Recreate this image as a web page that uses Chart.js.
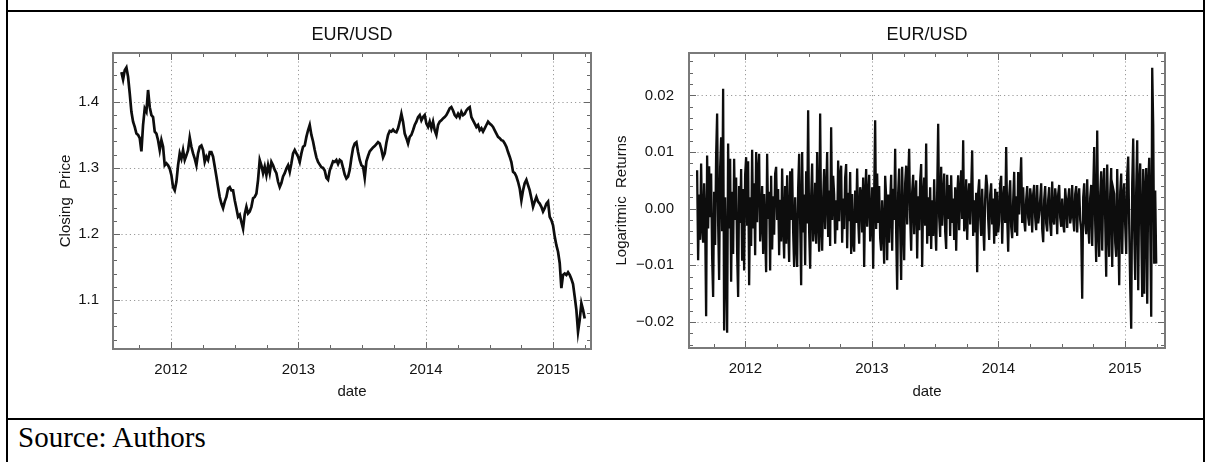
<!DOCTYPE html>
<html>
<head>
<meta charset="utf-8">
<title>EUR/USD</title>
<script src="https://cdn.jsdelivr.net/npm/chart.js@4.4.1/dist/chart.umd.min.js"></script>
<style>
  html, body { margin: 0; padding: 0; background: #fff; }
  body { width: 1206px; height: 462px; position: relative; overflow: hidden; }
  .rule { position: absolute; background: #000; }
  .panel { position: absolute; top: 12px; height: 406px; }
  #pricePanel { left: 8px; width: 592px; }
  #returnPanel { left: 600px; width: 604px; }
  #source {
    position: absolute; left: 18px; top: 423px;
    font-family: 'Liberation Serif', 'Times New Roman', serif;
    font-size: 29px; line-height: 29px; color: #000; white-space: nowrap;
  }
</style>
</head>
<body>
<div class="rule" style="left:6px;top:0;width:2px;height:462px"></div>
<div class="rule" style="left:1203px;top:0;width:2px;height:462px"></div>
<div class="rule" style="left:6px;top:10px;width:1199px;height:2px"></div>
<div class="rule" style="left:6px;top:418px;width:1199px;height:2px"></div>

<div class="panel" id="pricePanel"><canvas id="priceChart" width="592" height="406"></canvas></div>
<div class="panel" id="returnPanel"><canvas id="returnChart" width="604" height="406"></canvas></div>
<div id="source">Source: Authors</div>

<script>
// ---- data ----------------------------------------------------------------
// EUR/USD closing price, evenly spaced from the first to the last close
const priceFrom = '2011-08-12';
const priceTo = '2015-04-01';
const closingPrice = [
  1.445, 1.434, 1.448, 1.452, 1.438, 1.413, 1.385, 1.370, 1.362, 1.352,
  1.350, 1.345, 1.325, 1.365, 1.390, 1.385, 1.418, 1.392, 1.380, 1.377,
  1.355, 1.352, 1.342, 1.327, 1.342, 1.332, 1.304, 1.307, 1.304, 1.299,
  1.289, 1.271, 1.266, 1.279, 1.304, 1.322, 1.314, 1.327, 1.312, 1.319,
  1.327, 1.346, 1.332, 1.322, 1.314, 1.304, 1.322, 1.332, 1.334, 1.327,
  1.309, 1.317, 1.312, 1.324, 1.324, 1.317, 1.302, 1.287, 1.271, 1.256,
  1.246, 1.239, 1.249, 1.256, 1.269, 1.271, 1.266, 1.266, 1.251, 1.239,
  1.226, 1.229, 1.218, 1.208, 1.230, 1.241, 1.231, 1.234, 1.241, 1.254,
  1.256, 1.261, 1.282, 1.312, 1.304, 1.292, 1.302, 1.289, 1.304, 1.292,
  1.309, 1.304, 1.297, 1.292, 1.279, 1.271, 1.277, 1.287, 1.292, 1.299,
  1.304, 1.294, 1.307, 1.322, 1.327, 1.322, 1.317, 1.309, 1.322, 1.332,
  1.334, 1.347, 1.357, 1.365, 1.350, 1.340, 1.327, 1.316, 1.309, 1.305,
  1.301, 1.300, 1.296, 1.285, 1.282, 1.296, 1.303, 1.310, 1.309, 1.312,
  1.306, 1.312, 1.310, 1.300, 1.290, 1.284, 1.287, 1.297, 1.315, 1.330,
  1.337, 1.339, 1.324, 1.312, 1.304, 1.302, 1.285, 1.310, 1.318, 1.325,
  1.328, 1.331, 1.333, 1.336, 1.339, 1.337, 1.328, 1.316, 1.322, 1.338,
  1.350, 1.356, 1.355, 1.358, 1.355, 1.354, 1.360, 1.370, 1.382, 1.370,
  1.352, 1.345, 1.337, 1.347, 1.350, 1.357, 1.365, 1.370, 1.377, 1.380,
  1.372, 1.377, 1.380, 1.367, 1.362, 1.370, 1.360, 1.370, 1.357, 1.350,
  1.365, 1.370, 1.372, 1.375, 1.377, 1.380, 1.385, 1.390, 1.392, 1.387,
  1.380, 1.377, 1.382, 1.377, 1.385, 1.380, 1.382, 1.387, 1.390, 1.392,
  1.377, 1.372, 1.367, 1.362, 1.365, 1.357, 1.360, 1.355, 1.360, 1.365,
  1.370, 1.367, 1.365, 1.362, 1.357, 1.352, 1.347, 1.345, 1.342, 1.341,
  1.337, 1.332, 1.324, 1.317, 1.309, 1.294, 1.292, 1.287, 1.279, 1.269,
  1.251, 1.266, 1.277, 1.282, 1.274, 1.266, 1.254, 1.241, 1.249, 1.256,
  1.249, 1.246, 1.241, 1.234, 1.239, 1.246, 1.249, 1.226, 1.221, 1.213,
  1.196, 1.183, 1.173, 1.156, 1.118, 1.138, 1.140, 1.138, 1.142, 1.138,
  1.132, 1.124, 1.105, 1.085, 1.052, 1.070, 1.095, 1.085, 1.072
];

// Logarithmic returns in basis points (1 bp = 0.0001)
const returnFrom = '2011-08-15';
const returnTo = '2015-04-01';
const logReturnBp = [
  68, -91, 25, -55, 80, -30, -60, 45, -20, -190,
  94, -35, 75, -15, 62, -85, -156, 30, -64, 94,
  168, -25, -126, 72, 126, -40, 212, -215, 20, -86,
  -219, 115, -35, 88, -129, 30, -80, 88, -20, 55,
  -78, -156, 40, -25, 70, -92, 35, -109, 60, 91,
  -30, 84, -135, 20, -66, 104, -35, 45, -82, 100,
  -24, 66, 97, -58, -22, 40, -80, 26, -45, -112,
  97, -18, 30, -109, 58, -72, 22, -46, 62, 74,
  -20, 35, -82, 16, -58, 71, -26, -88, 40, -62,
  59, -28, -94, 66, -20, 71, -40, -103, 20, -58,
  -103, 36, 97, -22, -135, 100, -42, 25, -100, 66,
  -26, 174, -40, -106, 22, 80, -58, -30, 46, -62,
  100, -16, -76, 168, -30, -74, 18, 70, -36, 22,
  100, -50, 32, -66, 144, -20, 58, 25, -62, 15,
  -38, 85, -22, 58, 76, -60, 18, -36, 55, 79,
  -70, 28, -22, 65, -80, 26, -58, -76, 32, -25,
  71, -18, -62, 38, 26, -42, 55, -103, 22, 70,
  -32, 18, 60, -58, -22, 38, -106, 22, 156, -36,
  62, -25, 40, -52, -74, 15, -30, -97, 58, 22,
  -91, 25, -60, 12, 60, -74, 35, -20, 106, -42,
  -143, 28, 71, -32, -126, 74, -18, -91, 45, 76,
  -28, 52, 106, -15, -74, 30, 60, -45, 20, 50,
  -88, 22, -38, 50, 79, -103, 22, 55, -30, 115,
  -62, 20, -48, 38, -71, 15, -48, 52, -25, -74,
  28, 150, -15, -50, 74, -30, 18, 62, -40, -71,
  60, -18, 42, -48, 59, -25, 18, -55, 38, -74,
  18, 59, -38, 25, 68, -18, 121, -40, -28, 52,
  -55, 18, 45, -28, 32, 103, -48, 15, -42, 28,
  -112, 28, 52, -15, -48, 35, -25, -74, 18, 60,
  40, -18, -55, 25, 45, -28, 18, -62, 35, -48,
  30, -42, -22, 45, 58, -62, 12, 40, -25, 109,
  -15, -76, 22, 50, -32, -52, 15, 65, -42, 22,
  -48, 65, -10, 45, 91, -25, 38, -20, -40, 16,
  40, -16, -30, 36, 18, -42, 26, 42, -16, -38,
  42, -26, -10, 16, 45, -36, -59, 16, 40, -26,
  -40, 16, 38, -26, -48, 48, -16, -28, 36, 15,
  -45, 26, 42, -16, -32, 18, -26, -42, 36, 12,
  -34, 16, 36, -26, -12, 42, -16, -40, 26, 40,
  -42, 16, 36, -20, -38, -159, 20, 45, -25, -45,
  52, -25, -62, 20, 42, -66, 30, 109, -25, -94,
  138, -35, -85, 25, 66, -74, 35, 72, -20, -120,
  78, -30, -85, 25, 72, -103, 35, 26, -60, -85,
  70, -25, -135, 30, 62, -80, 20, 45, -30, -80,
  60, 92, -30, -138, -212, 45, 124, -40, -126, 35,
  121, -144, 40, 80, -30, -156, 70, -150, 30, 72,
  -168, 40, 90, -30, -191, 249, 147, -97, 32, -97
];

// axis ticks
const yearTicks = [2012, 2013, 2014, 2015];
const priceTicks = [1.1, 1.2, 1.3, 1.4];
const returnTicks = [-0.02, -0.01, 0, 0.01, 0.02];

// ---- helpers ---------------------------------------------------------------
function decimalYear(iso) {
  const [y, m, d] = iso.split('-').map(Number);
  const start = Date.UTC(y, 0, 1);
  const next = Date.UTC(y + 1, 0, 1);
  return y + (Date.UTC(y, m - 1, d) - start) / (next - start);
}

function spreadOverDates(values, from, to) {
  const a = decimalYear(from), b = decimalYear(to);
  return values.map((v, i) => ({ x: a + (b - a) * i / (values.length - 1), y: v }));
}

const pricePoints = spreadOverDates(closingPrice, priceFrom, priceTo);
const returnPoints = spreadOverDates(logReturnBp.map(v => v / 10000), returnFrom, returnTo);

// dotted grid, gray frame and inward ticks on all four sides
const framePlugin = {
  id: 'frame',
  beforeDatasetsDraw(chart, args, opts) {
    const { ctx, chartArea: a, scales: { x, y } } = chart;
    ctx.save();
    ctx.strokeStyle = opts.gridColor;
    ctx.lineWidth = 1;
    ctx.setLineDash([1.2, 3]);
    ctx.beginPath();
    x.ticks.forEach(t => {
      const p = Math.round(x.getPixelForValue(t.value)) + 0.5;
      ctx.moveTo(p, a.top); ctx.lineTo(p, a.bottom);
    });
    y.ticks.forEach(t => {
      const p = Math.round(y.getPixelForValue(t.value)) + 0.5;
      ctx.moveTo(a.left, p); ctx.lineTo(a.right, p);
    });
    ctx.stroke();
    ctx.restore();
  },
  afterDatasetsDraw(chart, args, opts) {
    const { ctx, chartArea: a, scales: { x, y } } = chart;
    ctx.save();
    ctx.strokeStyle = opts.tickColor;
    ctx.lineWidth = 1;
    ctx.beginPath();
    const mark = (scale, step, horizontal) => {
      const majors = scale.ticks.map(t => t.value);
      const first = Math.ceil(scale.min / step - 1e-9);
      const last = Math.floor(scale.max / step + 1e-9);
      for (let k = first; k <= last; k++) {
        const v = k * step;
        const major = majors.some(m => Math.abs(m - v) < step / 10);
        const len = major ? opts.majorLen : opts.minorLen;
        const p = Math.round(scale.getPixelForValue(v)) + 0.5;
        if (horizontal) {
          ctx.moveTo(p, a.bottom); ctx.lineTo(p, a.bottom - len);
          ctx.moveTo(p, a.top); ctx.lineTo(p, a.top + len);
        } else {
          ctx.moveTo(a.left, p); ctx.lineTo(a.left + len, p);
          ctx.moveTo(a.right, p); ctx.lineTo(a.right - len, p);
        }
      }
    };
    mark(x, opts.xMinor, true);
    mark(y, opts.yMinor, false);
    ctx.stroke();
    ctx.strokeStyle = opts.frameColor;
    ctx.lineWidth = opts.frameWidth;
    ctx.strokeRect(a.left, a.top, a.right - a.left, a.bottom - a.top);
    ctx.restore();
  }
};

const FONT = "'Liberation Sans', Arial, sans-serif";
const TEXT = '#141414';

function panelOptions(cfg) {
  return {
    responsive: false,
    animation: false,
    devicePixelRatio: 1,
    layout: { padding: cfg.padding },
    plugins: {
      legend: { display: false },
      tooltip: { enabled: false },
      title: {
        display: true,
        text: 'EUR/USD',
        fullSize: false,
        color: '#111',
        font: { family: FONT, size: 18, weight: 'normal' },
        padding: { top: 12, bottom: 7.4 }
      },
      frame: {
        gridColor: '#9a9a9a',
        tickColor: '#666',
        frameColor: '#7a7a7a',
        frameWidth: 2,
        majorLen: 7,
        minorLen: 4,
        xMinor: 0.25,
        yMinor: cfg.yMinor
      }
    },
    scales: {
      x: {
        type: 'linear',
        bounds: 'data',
        min: cfg.xMin,
        max: cfg.xMax,
        afterBuildTicks: axis => { axis.ticks = yearTicks.map(v => ({ value: v })); },
        afterFit: scale => { scale.height = 60; },
        grid: { display: false },
        border: { display: false },
        ticks: {
          color: TEXT, padding: 4, maxRotation: 0, autoSkip: false,
          font: { family: FONT, size: 15 },
          callback: v => String(v)
        },
        title: {
          display: true, text: 'date', color: TEXT,
          font: { family: FONT, size: 15 },
          padding: { top: 0, bottom: cfg.xTitlePad }
        }
      },
      y: {
        type: 'linear',
        bounds: 'data',
        min: cfg.yMin,
        max: cfg.yMax,
        afterBuildTicks: axis => { axis.ticks = cfg.yTicks.map(v => ({ value: v })); },
        afterFit: scale => { scale.width = cfg.yWidth; },
        grid: { display: false },
        border: { display: false },
        ticks: {
          color: TEXT, padding: cfg.yTickPad, autoSkip: false,
          font: { family: FONT, size: 15 },
          callback: cfg.yLabel
        },
        title: {
          display: true, text: cfg.yTitle, color: TEXT,
          font: { family: FONT, size: 15 },
          padding: { top: cfg.yTitlePad, bottom: 0 }
        }
      }
    }
  };
}

new Chart(document.getElementById('priceChart'), {
  type: 'line',
  data: {
    datasets: [{
      data: pricePoints,
      borderColor: '#0d0d0d',
      borderWidth: 2.7,
      pointRadius: 0,
      fill: false,
      tension: 0
    }]
  },
  options: panelOptions({
    padding: { left: 0, right: 9, top: 0, bottom: 9 },
    xMin: 2011.545, xMax: 2015.296,
    yMin: 1.0258, yMax: 1.474,
    yTicks: priceTicks, yMinor: 0.02,
    yWidth: 105, yTickPad: 6, yTitlePad: 48.5, xTitlePad: 8.5,
    yTitle: 'Closing  Price',
    yLabel: v => v.toFixed(1)
  }),
  plugins: [framePlugin]
});

new Chart(document.getElementById('returnChart'), {
  type: 'line',
  data: {
    datasets: [{
      data: returnPoints,
      borderColor: '#0d0d0d',
      borderWidth: 2.3,
      pointRadius: 0,
      fill: false,
      tension: 0
    }]
  },
  options: panelOptions({
    padding: { left: 0, right: 39, top: 0, bottom: 10 },
    xMin: 2011.555, xMax: 2015.316,
    yMin: -0.0246, yMax: 0.0275,
    yTicks: returnTicks, yMinor: 0.002,
    yWidth: 89, yTickPad: 7, yTitlePad: 12.8, xTitlePad: 7.5,
    yTitle: 'Logaritmic  Returns',
    yLabel: v => (v < 0 ? '\u2212' : '') + Math.abs(v).toFixed(2)
  }),
  plugins: [framePlugin]
});
</script>
</body>
</html>
